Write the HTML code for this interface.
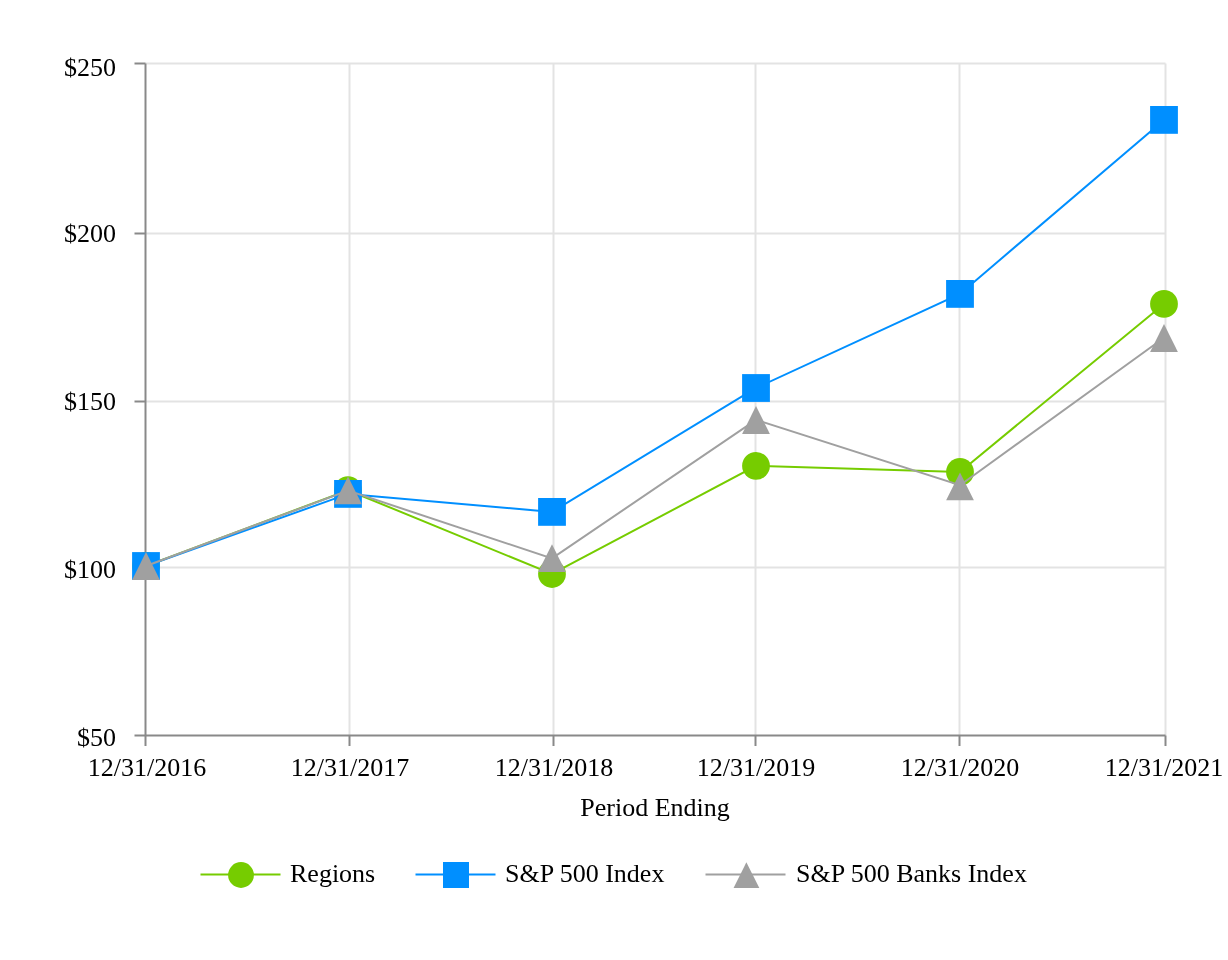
<!DOCTYPE html>
<html><head><meta charset="utf-8">
<style>
html,body{margin:0;padding:0;background:#fff;}
body{width:1228px;height:960px;overflow:hidden;position:relative;}
svg{position:absolute;left:0;top:0;will-change:transform;}
text{font-family:"Liberation Serif",serif;font-size:26px;fill:#000;}
</style></head><body>
<svg width="1228" height="960" viewBox="0 0 1228 960">
<rect width="1228" height="960" fill="#fff"/>
<!-- grid -->
<g stroke="#e3e3e3" stroke-width="2" fill="none">
<path d="M145.5 63.5H1165.5M145.5 233.5H1165.5M145.5 401.5H1165.5M145.5 567.5H1165.5"/>
<path d="M349.5 63.5V735.5M553.5 63.5V735.5M755.5 63.5V735.5M959.5 63.5V735.5M1165.5 63.5V735.5"/>
</g>
<!-- axes -->
<g stroke="#898989" stroke-width="2" fill="none">
<path d="M145.5 63.5V746M134.5 735.5H1165.5"/>
<path d="M134.5 63.5H145.5M134.5 233.5H145.5M134.5 401.5H145.5M134.5 567.5H145.5"/>
<path d="M349.5 735.5V746M553.5 735.5V746M755.5 735.5V746M959.5 735.5V746M1165.5 735.5V746"/>
</g>
<!-- y labels -->
<g text-anchor="end">
<text x="116" y="76">$250</text>
<text x="116" y="242">$200</text>
<text x="116" y="410">$150</text>
<text x="116" y="578">$100</text>
<text x="116" y="746">$50</text>
</g>
<!-- x labels -->
<g text-anchor="middle">
<text x="147" y="776">12/31/2016</text>
<text x="350" y="776">12/31/2017</text>
<text x="554" y="776">12/31/2018</text>
<text x="756" y="776">12/31/2019</text>
<text x="960" y="776">12/31/2020</text>
<text x="1164" y="776">12/31/2021</text>
<text x="655" y="816">Period Ending</text>
</g>
<!-- series: Regions -->
<polyline fill="none" stroke="#76cc00" stroke-width="2" points="146,566 348,490.2 552,574 756,465.8 960,471.9 1164,303.9"/>
<g fill="#76cc00">
<circle cx="146" cy="566" r="13.9"/><circle cx="348" cy="490.2" r="13.9"/><circle cx="552" cy="574" r="13.9"/>
<circle cx="756" cy="465.8" r="13.9"/><circle cx="960" cy="471.9" r="13.9"/><circle cx="1164" cy="303.9" r="13.9"/>
</g>
<!-- series: S&P 500 -->
<polyline fill="none" stroke="#008fff" stroke-width="2" points="146,566 348,493.9 552,511.9 756,388 960,293.9 1164,119.9"/>
<g fill="#008fff">
<rect x="132.1" y="552.1" width="27.8" height="27.8"/><rect x="334.1" y="480" width="27.8" height="27.8"/>
<rect x="538.1" y="498" width="27.8" height="27.8"/><rect x="742.1" y="374.1" width="27.8" height="27.8"/>
<rect x="946.1" y="280" width="27.8" height="27.8"/><rect x="1150.1" y="106" width="27.8" height="27.8"/>
</g>
<!-- series: Banks -->
<polyline fill="none" stroke="#a0a0a0" stroke-width="2" points="146,566 348,490.6 552,558.4 756,419.8 960,485.2 1164,337.8"/>
<g fill="#a0a0a0"><path d="M146 552.1L159.9 579.9H132.1Z"/><path d="M348 476.5L361.9 504.3H334.1Z"/><path d="M552 544.3L565.9 572.1H538.1Z"/><path d="M756 406.1L769.9 433.9H742.1Z"/><path d="M960 472.5L973.9 500.3H946.1Z"/><path d="M1164 324.1L1177.9 351.9H1150.1Z"/></g>
<!-- legend -->
<path d="M200.5 874.5H280.5" stroke="#76cc00" stroke-width="2"/>
<circle cx="241" cy="875" r="12.9" fill="#76cc00"/>
<text x="290" y="882">Regions</text>
<path d="M415.5 874.5H495.5" stroke="#008fff" stroke-width="2"/>
<rect x="443" y="862" width="26" height="26" fill="#008fff"/>
<text x="505" y="882">S&amp;P 500 Index</text>
<path d="M705.5 874.5H785.5" stroke="#a0a0a0" stroke-width="2"/>
<path d="M746.4 862.2L759.3 887.9H733.6Z" fill="#a0a0a0"/>
<text x="796" y="882">S&amp;P 500 Banks Index</text>
</svg>
</body></html>
